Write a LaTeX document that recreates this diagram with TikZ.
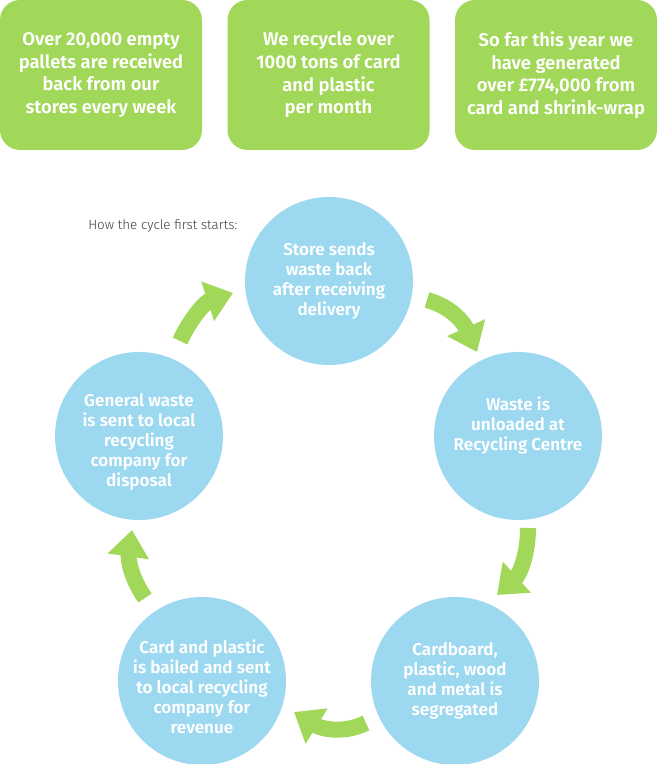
\documentclass[tikz,border=0pt]{standalone}
\usepackage{fontspec}
\setmainfont{Fira Sans}[BoldFont={Fira Sans SemiBold}]
\newfontfamily\lightfont{Fira Sans Light}
\usetikzlibrary{arrows.meta}

\definecolor{leafgreen}{RGB}{162,216,90}
\definecolor{skyblue}{RGB}{156,216,240}
\definecolor{captiongray}{RGB}{60,60,60}

\tikzset{
  factbox/.style={fill=leafgreen, rounded corners=15pt, minimum width=151.5pt,
    minimum height=112.5pt, inner sep=0pt, text=white, align=center,
    font=\bfseries\fontsize{13.8}{17}\selectfont},
  stage/.style={circle, fill=skyblue, minimum size=126pt, inner sep=0pt,
    text=white, align=center, font=\bfseries\fontsize{12.8}{15}\selectfont},
  stagetext/.style={stage, fill=none},
  cyclearrow/.style={draw=leafgreen, line width=12pt,
    -{Triangle[length=20pt,width=30pt]}}
}

\begin{document}
\begin{tikzpicture}[x=0.75pt,y=0.75pt]
\useasboundingbox (0,0) rectangle (657,764);

% facts along the top
\node[factbox] (pallets) at (101,689) {Over 20,000 empty\\pallets are received\\back from our\\stores every week};
\node[factbox] (tons) at (328.5,689) {We recycle over\\1000 tons of card\\and plastic\\per month};
\node[factbox] (money) at (556,689) {So far this year we\\have generated\\over £774,000 from\\card and shrink-wrap};

\node[anchor=base west, inner sep=0pt, text=captiongray,
  font=\lightfont\fontsize{10}{12}\selectfont] (howlabel) at (88,534) {How the cycle first starts:};

% the cycle
\node[stage] (store) at (329,483) {Store sends\\waste back\\after receiving\\delivery};
\node[stage] (unload) at (518,328) {};
\node[stagetext] (unloadtext) at ([yshift=7.5pt]unload) {Waste is\\unloaded at\\Recycling Centre};
\node[stage] (sort) at (455,83) {Cardboard,\\plastic, wood\\and metal is\\segregated};
\node[stage] (bail) at (202,83) {};
\node[stagetext] (bailtext) at ([yshift=-4pt]bail) {Card and plastic\\is bailed and sent\\to local recycling\\company for\\revenue};
\node[stage] (general) at (139,328) {};
\node[stagetext] (generaltext) at ([yshift=-4.5pt]general) {General waste\\is sent to local\\recycling\\company for\\disposal};

\coordinate (a1s) at (180,423); \coordinate (a1e) at (233,471);
\coordinate (a2s) at (427,464); \coordinate (a2e) at (477,412);
\coordinate (a3s) at (528,236); \coordinate (a3e) at (497,169);
\coordinate (a4s) at (366,41);  \coordinate (a4e) at (294,52);
\coordinate (a5s) at (145,166); \coordinate (a5e) at (132,234);

\draw[cyclearrow] (a1s) to[out=65,in=198] (a1e);
\draw[cyclearrow] (a2s) to[out=-15,in=114] (a2e);
\draw[cyclearrow] (a3s) to[out=-90,in=42] (a3e);
\draw[cyclearrow] (a4s) to[out=206,in=-32] (a4e);
\draw[cyclearrow] (a5s) to[out=125,in=262] (a5e);
\end{tikzpicture}
\end{document}
